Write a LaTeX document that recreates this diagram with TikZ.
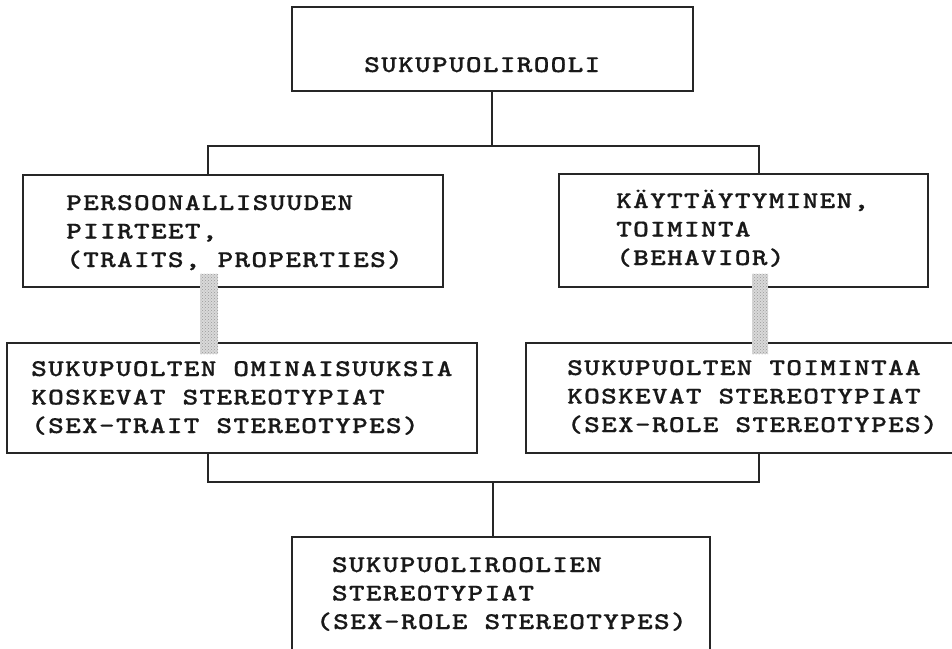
\documentclass[tikz,border=0pt]{standalone}
\usepackage{fontspec}
\newfontfamily\typew{lmmonolt10-bold.otf}[FakeStretch=1.25, LetterSpace=5, FakeBold=0.5]
\usetikzlibrary{patterns}
\begin{document}
\begin{tikzpicture}[x=1pt,y=-1pt,
  box/.style={draw=black!85, line width=1.8pt, inner sep=0pt, rectangle},
  txt/.style={inner sep=0pt, anchor=base west, align=left, text=black!90,
    font=\typew\fontsize{24}{28.5}\selectfont},
  link/.style={draw=black!85, line width=1.5pt},
  barfill/.style={fill=gray!30}]
\useasboundingbox (0,0) rectangle (952,648);
\clip (0,0) rectangle (952,648);
% boxes
\node[box, minimum width=401pt, minimum height=84pt] (top) at (492.5,49) {};
\node[box, minimum width=420pt, minimum height=112pt] (persoon) at (233,231) {};
\node[box, minimum width=369pt, minimum height=113pt] (behav) at (743.5,230.5) {};
\node[box, minimum width=470pt, minimum height=110pt] (sexL) at (242,398) {};
\node[box, minimum width=449pt, minimum height=110pt] (sexR) at (750.5,398) {};
\node[box, minimum width=418pt, minimum height=143pt] (bottom) at (501,608.5) {};
% texts
\node[txt] (ttop) at (364,72) {SUKUPUOLIROOLI};
\node[txt] (tpers) at (66,267) {PERSOONALLISUUDEN\\PIIRTEET,\\(TRAITS, PROPERTIES)};
\node[txt] (tbehav) at (616,265) {KÄYTTÄYTYMINEN,\\TOIMINTA\\(BEHAVIOR)};
\node[txt] (tsexL) at (31,433) {SUKUPUOLTEN OMINAISUUKSIA\\KOSKEVAT STEREOTYPIAT\\(SEX-TRAIT STEREOTYPES)};
\node[txt] (tsexR) at (567,432) {SUKUPUOLTEN TOIMINTAA\\KOSKEVAT STEREOTYPIAT\\(SEX-ROLE STEREOTYPES)};
\node[txt] (tbot) at (316,629) {\phantom{(}SUKUPUOLIROOLIEN\\\phantom{(}STEREOTYPIAT\\(SEX-ROLE STEREOTYPES)};
% helper coordinates
\coordinate (xL) at (208,0);
\coordinate (xR) at (759,0);
\coordinate (j1) at (492,146);
\coordinate (j2) at (493,482);
% upper connectors
\draw[link] (top.south -| j1) -- (j1);
\draw[link] (persoon.north -| xL) -- (xL |- j1) -- (xR |- j1) -- (behav.north -| xR);
% lower connectors
\draw[link] (sexL.south -| xL) -- (xL |- j2) -- (xR |- j2) -- (sexR.south -| xR);
\draw[link] (j2) -- (bottom.north -| j2);
% shaded bars
\coordinate (bL) at (209,0);
\coordinate (bR) at (760,0);
\path (persoon.south -| bL) ++(-9,-14) coordinate (b1a);
\path (sexL.north -| bL) ++(9,12) coordinate (b1b);
\path (behav.south -| bR) ++(-8,-14) coordinate (b2a);
\path (sexR.north -| bR) ++(8,12) coordinate (b2b);
\fill[barfill] (b1a) rectangle (b1b);
\fill[pattern=crosshatch dots, pattern color=gray!80] (b1a) rectangle (b1b);
\fill[barfill] (b2a) rectangle (b2b);
\fill[pattern=crosshatch dots, pattern color=gray!80] (b2a) rectangle (b2b);
\end{tikzpicture}
\end{document}
